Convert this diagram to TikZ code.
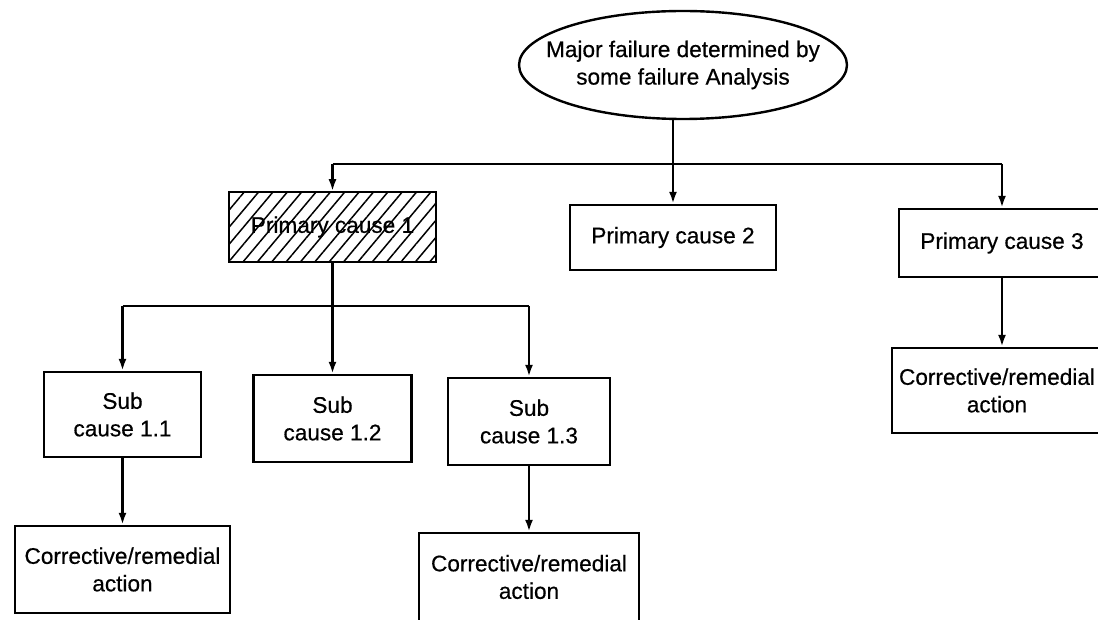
\documentclass[tikz,border=0pt]{standalone}
\usepackage{fontspec}
\setmainfont{Liberation Sans}
\usetikzlibrary{arrows.meta,shapes.geometric,patterns.meta}
\begin{document}
\begin{tikzpicture}[x=1pt,y=-1pt,
  line width=2.4pt,
  every node/.style={font=\fontsize{22.6}{27.5}\selectfont\addfontfeature{FakeBold=0.5},
    align=center, inner sep=0pt},
  box/.style={draw, rectangle, fill=white},
  hatched/.style={draw, rectangle, pattern={Lines[angle=50,distance=11pt,line width=1.5pt]}},
  oval/.style={draw, ellipse, fill=white, inner xsep=-40pt, inner ysep=0pt},
  link/.style={-{Latex[length=12pt,width=8pt]}}
]
\useasboundingbox (0,0) rectangle (1098,620);
\clip (0,0) rectangle (1098,620);

% top event
\node[oval, minimum width=328pt, minimum height=108pt] (ell) at (683,65)
  {Major failure determined by\\some failure Analysis};

% primary causes
\node[hatched, minimum width=207pt, minimum height=70pt] (p1) at (332.5,227) {Primary cause 1};
\node[box, minimum width=206pt, minimum height=65pt] (p2) at (673,237.5) {Primary cause 2};
\node[box, minimum width=206pt, minimum height=68pt] (p3) at (1002,243) {Primary cause 3};
\node[box, minimum width=210pt, minimum height=85pt] (c3) at (997,390.5) {Corrective/remedial\\action};

% sub causes of primary cause 1
\node[box, minimum width=157pt, minimum height=85pt] (s11) at (122.5,414.5) {Sub\\cause 1.1};
\node[box, minimum width=158pt, minimum height=87pt] (s12) at (332.5,418.5) {Sub\\cause 1.2};
\node[box, minimum width=162pt, minimum height=87pt] (s13) at (529,421.5) {Sub\\cause 1.3};
\node[box, minimum width=215pt, minimum height=87pt] (c11) at (122.5,569.5) {Corrective/remedial\\action};
\node[box, minimum width=220pt, minimum height=88pt] (c13) at (529,577) {Corrective/remedial\\action};

% first level bus
\coordinate (b1) at (673,164);
\draw (ell.south -| b1) -- (b1);
\draw (p1.north |- b1) -- (p3.north |- b1);
\draw[link] (p1.north |- b1) -- (p1.north);
\draw[link] (b1) -- (p2.north);
\draw[link] (p3.north |- b1) -- (p3.north);
\draw[link] (p3.south) -- (p3.south |- c3.north);

% second level bus
\coordinate (b2) at (332.5,306);
\draw (p1.south) -- (b2);
\draw (s11.north |- b2) -- (s13.north |- b2);
\draw[link] (s11.north |- b2) -- (s11.north);
\draw[link] (b2) -- (s12.north);
\draw[link] (s13.north |- b2) -- (s13.north);
\draw[link] (s11.south) -- (c11.north);
\draw[link] (s13.south) -- (c13.north);
\end{tikzpicture}
\end{document}
